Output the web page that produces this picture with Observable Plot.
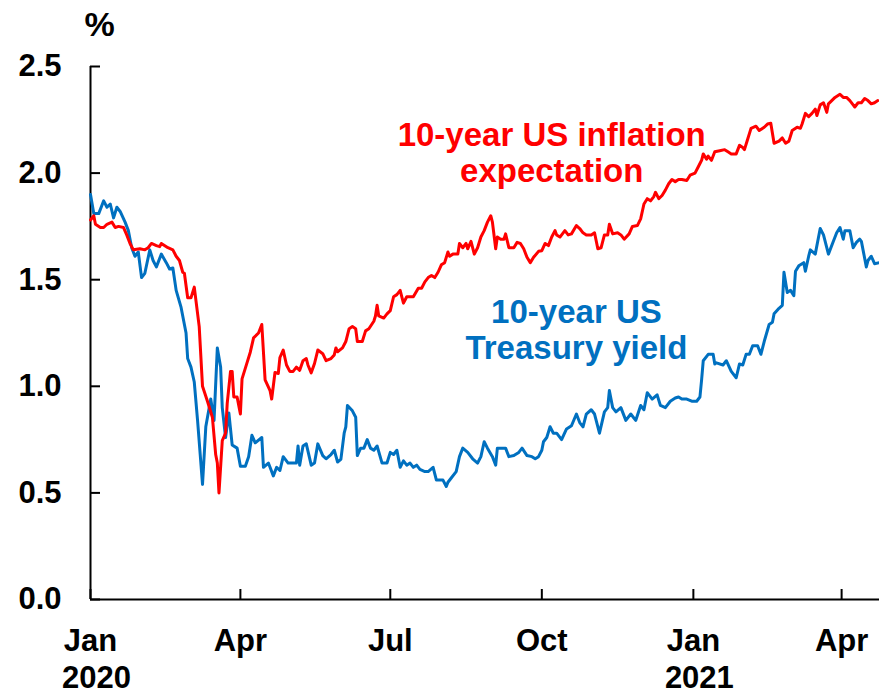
<!DOCTYPE html>
<html>
<head>
<meta charset="utf-8">
<script src="https://cdn.jsdelivr.net/npm/d3@7"></script>
<script src="https://cdn.jsdelivr.net/npm/@observablehq/plot@0.6"></script>
<style>
  html, body { margin: 0; padding: 0; background: #fff; }
  #chart svg { display: block; }
</style>
</head>
<body>
<div id="chart"></div>
<script>
// ---------- DATA ----------
const yieldDates = [
  "2020-01-01","2020-01-03","2020-01-06","2020-01-09","2020-01-11","2020-01-13","2020-01-15","2020-01-17","2020-01-19","2020-01-22","2020-01-24","2020-01-26","2020-01-28","2020-01-30",
  "2020-02-01","2020-02-03","2020-02-06","2020-02-08","2020-02-10","2020-02-13","2020-02-16","2020-02-18","2020-02-20","2020-02-22","2020-02-25","2020-02-26","2020-02-28","2020-02-29",
  "2020-03-02","2020-03-04","2020-03-06","2020-03-09","2020-03-11","2020-03-14","2020-03-16","2020-03-18","2020-03-20","2020-03-21","2020-03-23","2020-03-25","2020-03-27","2020-03-30",
  "2020-04-01","2020-04-04","2020-04-06","2020-04-08","2020-04-10","2020-04-14","2020-04-15","2020-04-18","2020-04-19","2020-04-21","2020-04-23","2020-04-25","2020-04-27","2020-04-30",
  "2020-05-03","2020-05-05","2020-05-06","2020-05-07","2020-05-09","2020-05-11","2020-05-14","2020-05-16","2020-05-18","2020-05-21","2020-05-23","2020-05-26","2020-05-28","2020-05-30",
  "2020-06-01","2020-06-03","2020-06-04","2020-06-05","2020-06-08","2020-06-10","2020-06-11","2020-06-13","2020-06-15","2020-06-17","2020-06-19","2020-06-21","2020-06-23","2020-06-26","2020-06-29",
  "2020-07-01","2020-07-03","2020-07-05","2020-07-07","2020-07-09","2020-07-11","2020-07-13","2020-07-15","2020-07-17","2020-07-19","2020-07-22","2020-07-24","2020-07-27","2020-07-29",
  "2020-08-02","2020-08-04","2020-08-05","2020-08-07","2020-08-10","2020-08-12","2020-08-14","2020-08-17","2020-08-20","2020-08-23","2020-08-25","2020-08-27","2020-08-29",
  "2020-09-01","2020-09-03","2020-09-04","2020-09-07","2020-09-09","2020-09-11","2020-09-14","2020-09-17","2020-09-19","2020-09-22","2020-09-25","2020-09-27","2020-09-29",
  "2020-10-01","2020-10-02","2020-10-04","2020-10-06","2020-10-08","2020-10-10","2020-10-13","2020-10-16","2020-10-19","2020-10-22","2020-10-24","2020-10-26","2020-10-28","2020-10-31",
  "2020-11-02","2020-11-05","2020-11-08","2020-11-10","2020-11-11","2020-11-13","2020-11-15","2020-11-18","2020-11-21","2020-11-24","2020-11-27","2020-11-30",
  "2020-12-02","2020-12-04","2020-12-07","2020-12-10","2020-12-12","2020-12-15","2020-12-18","2020-12-21","2020-12-23","2020-12-25","2020-12-28","2020-12-31",
  "2021-01-03","2021-01-05","2021-01-06","2021-01-07","2021-01-10","2021-01-13","2021-01-14","2021-01-15","2021-01-19","2021-01-21","2021-01-24","2021-01-27","2021-01-29","2021-01-31",
  "2021-02-02","2021-02-04","2021-02-06","2021-02-09","2021-02-11","2021-02-13","2021-02-16","2021-02-18","2021-02-19","2021-02-22","2021-02-24","2021-02-25","2021-02-27",
  "2021-03-01","2021-03-03","2021-03-04","2021-03-06","2021-03-09","2021-03-10","2021-03-12","2021-03-13","2021-03-16","2021-03-19","2021-03-21","2021-03-24","2021-03-27","2021-03-29","2021-03-31",
  "2021-04-02","2021-04-03","2021-04-06","2021-04-08","2021-04-10","2021-04-12","2021-04-13","2021-04-14","2021-04-16","2021-04-17","2021-04-19","2021-04-21","2021-04-24"
];
const yieldValues = [
  1.90,1.81,1.81,1.87,1.84,1.855,1.79,1.84,1.82,1.77,1.73,1.65,1.61,1.63,
  1.51,1.53,1.64,1.59,1.56,1.62,1.58,1.55,1.555,1.45,1.37,1.33,1.25,1.13,
  1.09,1.02,0.84,0.54,0.81,0.94,0.84,1.18,1.09,0.90,0.76,0.875,0.725,0.71,
  0.625,0.625,0.67,0.77,0.735,0.76,0.62,0.64,0.62,0.58,0.62,0.605,0.67,0.64,
  0.64,0.64,0.72,0.63,0.72,0.73,0.63,0.64,0.73,0.675,0.66,0.68,0.70,0.645,
  0.657,0.78,0.81,0.91,0.885,0.855,0.675,0.71,0.71,0.75,0.71,0.70,0.72,0.64,0.64,
  0.69,0.68,0.70,0.62,0.65,0.63,0.64,0.62,0.63,0.61,0.60,0.60,0.62,0.56,
  0.56,0.53,0.55,0.57,0.60,0.67,0.71,0.69,0.66,0.64,0.67,0.74,0.71,
  0.67,0.63,0.71,0.71,0.71,0.67,0.675,0.69,0.71,0.675,0.67,0.66,0.67,
  0.70,0.74,0.76,0.81,0.78,0.78,0.75,0.80,0.815,0.87,0.83,0.81,0.87,0.89,
  0.87,0.78,0.88,0.90,0.98,0.90,0.88,0.90,0.84,0.87,0.84,0.91,
  0.89,0.97,0.94,0.96,0.91,0.90,0.93,0.945,0.95,0.94,0.94,0.93,
  0.93,0.95,1.03,1.12,1.15,1.15,1.105,1.11,1.10,1.12,1.07,1.04,1.105,1.10,
  1.15,1.15,1.19,1.19,1.15,1.21,1.29,1.30,1.34,1.366,1.38,1.535,1.44,
  1.45,1.425,1.54,1.565,1.58,1.54,1.61,1.64,1.62,1.74,1.71,1.62,1.68,1.72,1.745,
  1.69,1.73,1.73,1.65,1.675,1.69,1.68,1.64,1.56,1.59,1.61,1.575,1.58
];

const inflDates = [
  "2020-01-01","2020-01-03","2020-01-04","2020-01-07","2020-01-09","2020-01-11","2020-01-14","2020-01-16","2020-01-18","2020-01-21","2020-01-23","2020-01-25","2020-01-27","2020-01-31",
  "2020-02-03","2020-02-05","2020-02-07","2020-02-10","2020-02-12","2020-02-13","2020-02-17","2020-02-20","2020-02-22","2020-02-24","2020-02-26","2020-02-27","2020-02-29",
  "2020-03-02","2020-03-04","2020-03-07","2020-03-09","2020-03-12","2020-03-15","2020-03-17","2020-03-18","2020-03-19","2020-03-21","2020-03-23","2020-03-24","2020-03-26","2020-03-27","2020-03-28","2020-03-30",
  "2020-04-01","2020-04-02","2020-04-05","2020-04-07","2020-04-09","2020-04-12","2020-04-14","2020-04-16","2020-04-19","2020-04-20","2020-04-22","2020-04-24","2020-04-25","2020-04-27","2020-04-29",
  "2020-05-01","2020-05-03","2020-05-05","2020-05-07","2020-05-09","2020-05-11","2020-05-12","2020-05-14","2020-05-16","2020-05-18","2020-05-21","2020-05-23","2020-05-26","2020-05-28","2020-05-29","2020-05-30",
  "2020-06-02","2020-06-04","2020-06-06","2020-06-08","2020-06-10","2020-06-11","2020-06-14","2020-06-16","2020-06-18","2020-06-21","2020-06-22","2020-06-23","2020-06-24","2020-06-27","2020-06-29",
  "2020-07-01","2020-07-03","2020-07-05","2020-07-07","2020-07-08","2020-07-09","2020-07-11","2020-07-15","2020-07-18","2020-07-20","2020-07-22","2020-07-24","2020-07-26","2020-07-28","2020-07-30",
  "2020-08-01","2020-08-03","2020-08-05","2020-08-06","2020-08-08","2020-08-11","2020-08-12","2020-08-14","2020-08-16","2020-08-17","2020-08-19","2020-08-21","2020-08-23","2020-08-25","2020-08-27","2020-08-29","2020-08-31",
  "2020-09-01","2020-09-03","2020-09-04","2020-09-06","2020-09-08","2020-09-09","2020-09-11","2020-09-14","2020-09-16","2020-09-18","2020-09-20","2020-09-22","2020-09-24","2020-09-26","2020-09-29",
  "2020-10-01","2020-10-03","2020-10-05","2020-10-07","2020-10-09","2020-10-10","2020-10-12","2020-10-15","2020-10-17","2020-10-19","2020-10-22","2020-10-24","2020-10-26","2020-10-28","2020-10-31",
  "2020-11-02","2020-11-04","2020-11-06","2020-11-08","2020-11-10","2020-11-11","2020-11-13","2020-11-16","2020-11-18","2020-11-20","2020-11-23","2020-11-25","2020-11-28","2020-11-30",
  "2020-12-02","2020-12-04","2020-12-06","2020-12-08","2020-12-09","2020-12-11","2020-12-13","2020-12-15","2020-12-17","2020-12-19","2020-12-21","2020-12-23","2020-12-25","2020-12-28","2020-12-30",
  "2021-01-02","2021-01-04","2021-01-06","2021-01-07","2021-01-09","2021-01-10","2021-01-12","2021-01-14","2021-01-17","2021-01-20","2021-01-22","2021-01-24","2021-01-27","2021-01-29","2021-01-31",
  "2021-02-01","2021-02-03","2021-02-05","2021-02-08","2021-02-10","2021-02-13","2021-02-15","2021-02-17","2021-02-19","2021-02-22","2021-02-24","2021-02-26","2021-02-28",
  "2021-03-02","2021-03-05","2021-03-07","2021-03-08","2021-03-10","2021-03-12","2021-03-14","2021-03-16","2021-03-17","2021-03-19","2021-03-21","2021-03-23","2021-03-24","2021-03-26","2021-03-28","2021-03-31",
  "2021-04-02","2021-04-04","2021-04-06","2021-04-08","2021-04-09","2021-04-11","2021-04-13","2021-04-15","2021-04-17","2021-04-19","2021-04-21","2021-04-23"
];
const inflValues = [
  1.78,1.80,1.76,1.745,1.745,1.76,1.77,1.745,1.75,1.745,1.71,1.67,1.64,1.645,
  1.64,1.65,1.67,1.66,1.655,1.67,1.65,1.64,1.61,1.59,1.535,1.53,1.415,
  1.415,1.465,1.28,1.00,0.93,0.855,0.68,0.64,0.50,0.745,0.78,0.92,1.07,1.07,0.95,0.95,
  0.87,1.035,1.11,1.16,1.227,1.25,1.29,1.03,0.98,0.94,1.065,1.06,1.135,1.17,1.10,
  1.07,1.07,1.09,1.075,1.12,1.13,1.10,1.063,1.107,1.17,1.153,1.12,1.13,1.147,1.18,1.162,
  1.18,1.21,1.27,1.28,1.27,1.21,1.21,1.26,1.27,1.305,1.33,1.38,1.33,1.32,1.34,
  1.355,1.42,1.43,1.45,1.42,1.39,1.42,1.42,1.46,1.46,1.49,1.51,1.52,1.51,1.535,
  1.57,1.58,1.63,1.61,1.62,1.62,1.67,1.65,1.67,1.645,1.68,1.62,1.65,1.70,1.73,1.77,1.80,
  1.77,1.645,1.70,1.69,1.69,1.715,1.65,1.65,1.675,1.67,1.645,1.605,1.58,1.605,1.633,
  1.636,1.67,1.66,1.70,1.73,1.71,1.70,1.73,1.71,1.715,1.754,1.74,1.72,1.71,1.71,
  1.72,1.645,1.65,1.71,1.71,1.76,1.715,1.72,1.71,1.69,1.715,1.75,1.754,1.785,
  1.855,1.88,1.87,1.89,1.91,1.88,1.895,1.92,1.95,1.97,1.96,1.97,1.97,1.965,1.99,
  2.00,2.03,2.06,2.09,2.065,2.08,2.06,2.10,2.105,2.11,2.10,2.09,2.09,2.13,2.12,
  2.11,2.16,2.21,2.22,2.20,2.215,2.23,2.234,2.14,2.15,2.165,2.14,2.15,
  2.20,2.215,2.21,2.23,2.28,2.265,2.28,2.30,2.27,2.32,2.33,2.285,2.325,2.34,2.355,2.37,
  2.355,2.355,2.34,2.32,2.31,2.33,2.33,2.35,2.34,2.325,2.33,2.34
];

const yTicks = [0, 0.5, 1.0, 1.5, 2.0, 2.5];
const xTickDates = ["2020-01-01","2020-04-01","2020-07-01","2020-10-01","2021-01-01","2021-04-01"];
const yearLabels = [{date: "2020-01-01", label: "2020"}, {date: "2021-01-01", label: "2021"}];
const xDomain = ["2020-01-01", "2021-04-24"];
const unitLabel = "%";
const inflLabel = "10-year US inflation\nexpectation";
const yieldLabel = "10-year US\nTreasury yield";

// ---------- BUILD ----------
const parse = d3.utcParse("%Y-%m-%d");
const yieldData = yieldDates.map((d, i) => ({date: parse(d), value: yieldValues[i]}));
const inflData = inflDates.map((d, i) => ({date: parse(d), value: inflValues[i]}));
const xTicks = xTickDates.map(parse);
const years = yearLabels.map(d => ({date: parse(d.date), label: d.label}));

const RED = "#ff0000";
const BLUE = "#0070c0";
const W = 879, H = 697, ML = 90, MR = 0, MT = 66, MB = 98;
const FONT = 31;

const chart = Plot.plot({
  width: W,
  height: H,
  marginLeft: ML,
  marginRight: MR,
  marginTop: MT,
  marginBottom: MB,
  style: {
    fontFamily: "'Liberation Sans', Arial, Helvetica, sans-serif",
    fontWeight: "bold",
    fontSize: FONT + "px",
    color: "#000",
    background: "#fff",
    overflow: "visible"
  },
  x: {type: "utc", domain: xDomain.map(parse)},
  y: {domain: [0, 2.5]},
  marks: [
    Plot.axisY(yTicks, {
      tickSize: 0, tickPadding: 29, label: null,
      tickFormat: d => d.toFixed(1), fontSize: FONT, fontWeight: "bold"
    }),
    Plot.axisX(xTicks, {
      tickSize: 0, tickPadding: 29, label: null,
      tickFormat: d3.utcFormat("%b"), fontSize: FONT, fontWeight: "bold"
    }),
    // inward tick marks
    Plot.tickY(yTicks, {y: d => d, insetRight: W - ML - MR - 10, stroke: "#000", strokeWidth: 2}),
    Plot.tickX(xTicks, {x: d => d, insetTop: H - MT - MB - 10, stroke: "#000", strokeWidth: 2}),
    // axis lines
    Plot.ruleX([parse(xDomain[0])], {stroke: "#000", strokeWidth: 2}),
    Plot.ruleY([0], {stroke: "#000", strokeWidth: 2}),
    // series
    Plot.line(yieldData, {x: "date", y: "value", stroke: BLUE, strokeWidth: 3, strokeLinejoin: "round"}),
    Plot.line(inflData, {x: "date", y: "value", stroke: RED, strokeWidth: 3, strokeLinejoin: "round"}),
    // year labels under Jan
    Plot.text(years, {
      x: "date", text: "label", frameAnchor: "bottom", dy: 66, dx: 6,
      lineAnchor: "top", fontSize: FONT, fontWeight: "bold", fill: "#000"
    }),
    // unit label
    Plot.text([unitLabel], {
      text: d => d, frameAnchor: "top-left", dx: -6, dy: -55,
      lineAnchor: "top", fontSize: 34, fontWeight: "bold", fill: "#000"
    }),
    // series labels
    Plot.text([inflLabel], {
      text: d => d, x: () => parse("2020-10-07"), y: () => 2.25,
      lineAnchor: "top", lineHeight: 1.1, textAnchor: "middle",
      fontSize: 33, fontWeight: "bold", fill: RED
    }),
    Plot.text([yieldLabel], {
      text: d => d, x: () => parse("2020-10-22"), y: () => 1.42,
      lineAnchor: "top", lineHeight: 1.1, textAnchor: "middle",
      fontSize: 33, fontWeight: "bold", fill: BLUE
    })
  ]
});

document.getElementById("chart").append(chart);
</script>
</body>
</html>
